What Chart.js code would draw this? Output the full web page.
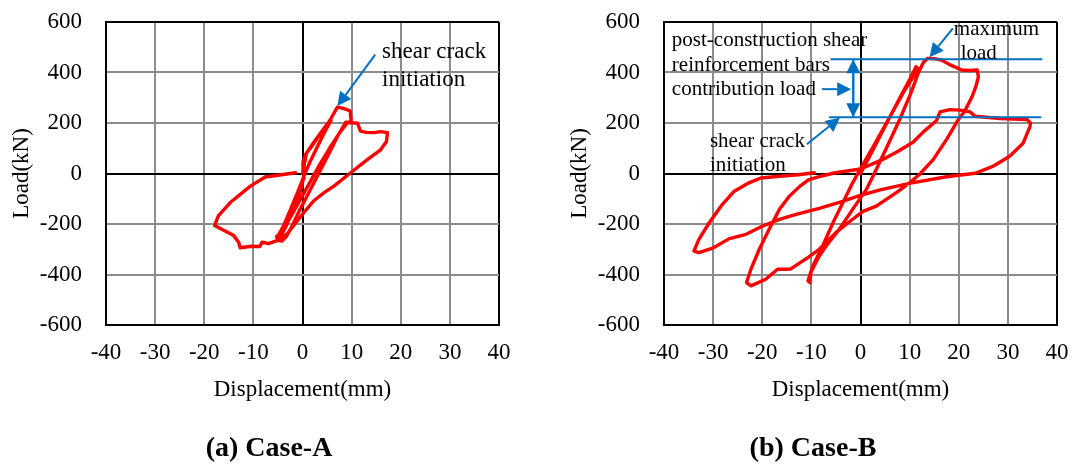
<!DOCTYPE html>
<html>
<head>
<meta charset="utf-8">
<script src="https://cdn.jsdelivr.net/npm/chart.js@4/dist/chart.umd.min.js"></script>
<style>
html,body{margin:0;padding:0;background:#fff;}
body{width:1073px;height:466px;position:relative;overflow:hidden;font-family:"Liberation Serif","Times New Roman",serif;}
.box{position:absolute;top:0;height:466px;}
.cap{position:absolute;top:433px;font-weight:bold;font-size:28px;line-height:28px;white-space:nowrap;transform:translateX(-50%);color:#000;}
</style>
</head>
<body>
<div class="box" style="left:0;width:540px"><canvas id="cA" width="540" height="466"></canvas></div>
<div class="box" style="left:558px;width:515px"><canvas id="cB" width="515" height="466"></canvas></div>
<div class="cap" style="left:269px">(a) Case-A</div>
<div class="cap" style="left:813px">(b) Case-B</div>
<script>
// ---------- tick labels ----------
const xTickValues = [-40, -30, -20, -10, 0, 10, 20, 30, 40];
const yTickValues = [-600, -400, -200, 0, 200, 400, 600];
const xAxisTitle = 'Displacement(mm)';
const yAxisTitle = 'Load(kN)';

// ---------- Case-A hysteresis (displacement mm, load kN) ----------
const caseA_disp = [0, 0.1, 0.6, 1.6, 3.4, 5.0, 5.8, 5.5, 4.4, 3.0, 1.5, 0.3, -1.0, -2.5, -3.8, -4.8, -5.3,
  -4.6, -3.5, -2.0, -0.5, 0.2, 0.3, 0.8, 2.0, 3.6, 5.5, 7.1, 8.3, 9.7, 9.9,
  9.0, 7.5, 5.5, 3.5, 1.5, -0.5, -2.5, -4.2, -5.2, -5.0, -4.2, -3.3,
  -2.3, -0.7, 1.3, 3.3, 5.3, 7.2, 8.8, 9.8,
  11.2, 11.8, 13.0, 14.6, 15.9, 17.3, 17.1, 15.9, 13.2, 9.8, 6.4, 4.4, 2.3, 0.3, -1.8, -3.1, -4.5, -5.5,
  -6.9, -8.2, -8.7, -10.3, -12.7, -13.0, -14.0, -17.9, -17.1, -14.7, -10.6, -7.6, -1.4];
const caseA_load = [0, 45, 75, 100, 150, 195, 210, 200, 160, 105, 45, -10, -75, -145, -205, -240, -250,
  -255, -215, -150, -75, -20, 30, 80, 115, 158, 208, 263, 258, 248, 208,
  198, 160, 100, 35, -35, -105, -175, -230, -255, -265, -268, -250,
  -215, -150, -75, 0, 75, 150, 203, 201,
  199, 168, 163, 162, 166, 162, 127, 94, 55, 3, -50, -76, -108, -154, -206, -239, -259, -268,
  -278, -272, -289, -288, -294, -272, -246, -206, -167, -115, -50, -14, 3];

// ---------- Case-B hysteresis (displacement mm, load kN) ----------
const caseB_disp = [0, 1.5, 3.5, 6.0, 8.5, 10.5, 11.3, 11.6, 10.8, 9.0, 6.0, 3.0, 0.1, -1.6, -3.6, -5.6, -7.7, -9.7, -10.7,
  -10.3, -10.1, -8.5, -7.0, -4.3, -1.6, 1.2, 3.2, 5.5, 8.0, 10.3, 11.8, 12.8, 13.7,
  15.0, 16.5, 18.5, 20.6, 22.3, 23.75, 24.0, 23.5, 22.7, 21.3, 19.9, 17.5, 14.8, 12.0, 10.0, 7.3, 3.2, 0.5, -2.9, -5.0,
  -8.4, -10.5, -12.8, -14.2, -15.2, -16.9, -19.3, -22.3, -23.2, -22.3, -20.6, -18.6, -16.5, -14.5, -12.3, -10.6,
  -8.4, -5.1, 0.0, 3.3, 5.2, 7.4, 10.7, 12.8, 15.5, 16.2, 18.2, 20.3, 22.3, 23.3, 28.4, 33.9, 34.6,
  34.5, 33.1, 30.3, 26.9, 23.4, 17.8, 10.2, 4.0, -0.2, -4.3, -8.4, -13.1, -16.5, -19.9, -23.3, -26.7, -30.1, -32.9, -33.9,
  -32.9, -30.8, -28.1, -25.7, -22.7, -20.3, -16.5, -12.7, -9.4];
const caseB_load = [0, 55, 130, 225, 318, 390, 423, 418, 385, 330, 225, 120, 22, -37, -116, -195, -287, -366, -425,
  -432, -392, -330, -287, -221, -142, -63, 16, 110, 215, 320, 400, 440, 456,
  455, 449, 428, 410, 408, 410, 383, 345, 304, 250, 213, 134, 55, -4, -37, -76, -129, -150, -201, -234,
  -300, -330, -360, -378, -379, -379, -419, -445, -432, -379, -300, -221, -142, -90, -50, -25,
  -12, 3, 18, 45, 62, 85, 124, 165, 210, 244, 253, 251, 244, 227, 218, 214, 200,
  186, 120, 67, 28, 1, -12, -38, -65, -88, -114, -138, -162, -182, -208, -241, -258, -296, -313, -307,
  -261, -195, -122, -70, -37, -18, -11, -5, 3];

const SERIF = '"Liberation Serif", "Times New Roman", serif';
const BLUE = '#0070C0';

function drawArrow(ctx, x1, y1, x2, y2, len, half) {
  const a = Math.atan2(y2 - y1, x2 - x1);
  const bx = x2 - len * Math.cos(a), by = y2 - len * Math.sin(a);
  ctx.beginPath(); ctx.moveTo(x1, y1); ctx.lineTo(bx, by); ctx.stroke();
  ctx.beginPath();
  ctx.moveTo(x2, y2);
  ctx.lineTo(bx + half * Math.sin(a), by - half * Math.cos(a));
  ctx.lineTo(bx - half * Math.sin(a), by + half * Math.cos(a));
  ctx.closePath(); ctx.fill();
}

const annotPlugin = {
  id: 'annot',
  afterDatasetsDraw(chart, args, opts) {
    const ctx = chart.ctx, sx = chart.scales.x, sy = chart.scales.y;
    const px = v => sx.getPixelForValue(v), py = v => sy.getPixelForValue(v);
    ctx.save();
    ctx.strokeStyle = BLUE; ctx.fillStyle = BLUE; ctx.lineWidth = 2;
    (opts.lines || []).forEach(l => {
      ctx.beginPath(); ctx.moveTo(px(l.x1), py(l.y)); ctx.lineTo(px(l.x2), py(l.y)); ctx.stroke();
    });
    (opts.arrows || []).forEach(a => {
      drawArrow(ctx, px(a.x1), py(a.y1), px(a.x2), py(a.y2), 14, 7);
      if (a.both) drawArrow(ctx, px(a.x2), py(a.y2), px(a.x1), py(a.y1), 14, 7);
    });
    ctx.fillStyle = '#000';
    ctx.textBaseline = 'alphabetic'; ctx.textAlign = 'left';
    (opts.texts || []).forEach(t => {
      ctx.font = t.size + 'px ' + SERIF;
      ctx.fillText(t.text, px(t.x), py(t.y));
    });
    ctx.restore();
  }
};

function gridColor(limitA, limitB) {
  return c => {
    const v = c.tick ? c.tick.value : null;
    return (v === 0 || v === limitA || v === limitB) ? '#000' : '#8c8c8c';
  };
}

function makeChart(id, xs, ys, rightPad, annot) {
  const font = {family: SERIF, size: 23, lineHeight: 1};
  return new Chart(document.getElementById(id), {
    type: 'scatter',
    data: {datasets: [{
      data: xs.map((v, i) => ({x: v, y: ys[i]})),
      showLine: true, borderColor: '#ff0000', borderWidth: 3.4,
      pointRadius: 0, pointHoverRadius: 0, fill: false, tension: 0,
      borderJoinStyle: 'round', borderCapStyle: 'round'
    }]},
    options: {
      responsive: false, animation: false, devicePixelRatio: 1,
      layout: {padding: {left: 0, top: 22, right: rightPad, bottom: 0}},
      plugins: {legend: {display: false}, tooltip: {enabled: false}, annot: annot},
      events: [],
      scales: {
        x: {
          type: 'linear', min: -40, max: 40,
          afterBuildTicks: s => { s.ticks = xTickValues.map(v => ({value: v})); },
          afterFit: s => { s.height = 141; s.paddingLeft = 0; s.paddingRight = 0; },
          ticks: {font: font, color: '#000', padding: 16.5, maxRotation: 0, autoSkip: false},
          grid: {color: gridColor(-40, 40), lineWidth: 2, drawTicks: false},
          border: {color: '#000', width: 2},
          title: {display: true, text: xAxisTitle, color: '#000', font: font, padding: {top: 0, bottom: 64.5}}
        },
        y: {
          type: 'linear', min: -600, max: 600,
          afterBuildTicks: s => { s.ticks = yTickValues.map(v => ({value: v})); },
          afterFit: s => { s.width = 106; s.paddingTop = 0; s.paddingBottom = 0; },
          ticks: {font: font, color: '#000', padding: 24, autoSkip: false},
          grid: {color: gridColor(-600, 600), lineWidth: 2, drawTicks: false},
          border: {color: '#000', width: 2},
          title: {display: true, text: yAxisTitle, color: '#000', font: font, padding: {top: 10.5, bottom: 0}}
        }
      }
    },
    plugins: [annotPlugin]
  });
}

makeChart('cA', caseA_disp, caseA_load, 41, {
  arrows: [{x1: 14.8, y1: 471, x2: 7.1, y2: 267}],
  texts: [
    {text: 'shear crack', x: 16.2, y: 456, size: 23},
    {text: 'initiation', x: 16.2, y: 346, size: 23}
  ]
});

makeChart('cB', caseB_disp, caseB_load, 16, {
  lines: [{x1: -6.1, x2: 37.0, y: 452}, {x1: -6.4, x2: 36.8, y: 223}],
  arrows: [
    {x1: -1.47, y1: 452, x2: -1.47, y2: 223, both: true},
    {x1: -7.84, y1: 334, x2: -1.9, y2: 334},
    {x1: 18.8, y1: 575, x2: 14.05, y2: 460},
    {x1: -10.9, y1: 116, x2: -4.2, y2: 221}
  ],
  texts: [
    {text: 'post-construction shear', x: -38.4, y: 504, size: 21},
    {text: 'reinforcement bars', x: -38.4, y: 406, size: 21},
    {text: 'contribution load', x: -38.4, y: 310, size: 21},
    {text: 'maximum', x: 19.0, y: 547, size: 21},
    {text: 'load', x: 20.4, y: 455, size: 21},
    {text: 'shear crack', x: -30.65, y: 106, size: 21},
    {text: 'initiation', x: -30.65, y: 11, size: 21}
  ]
});
</script>
</body>
</html>
